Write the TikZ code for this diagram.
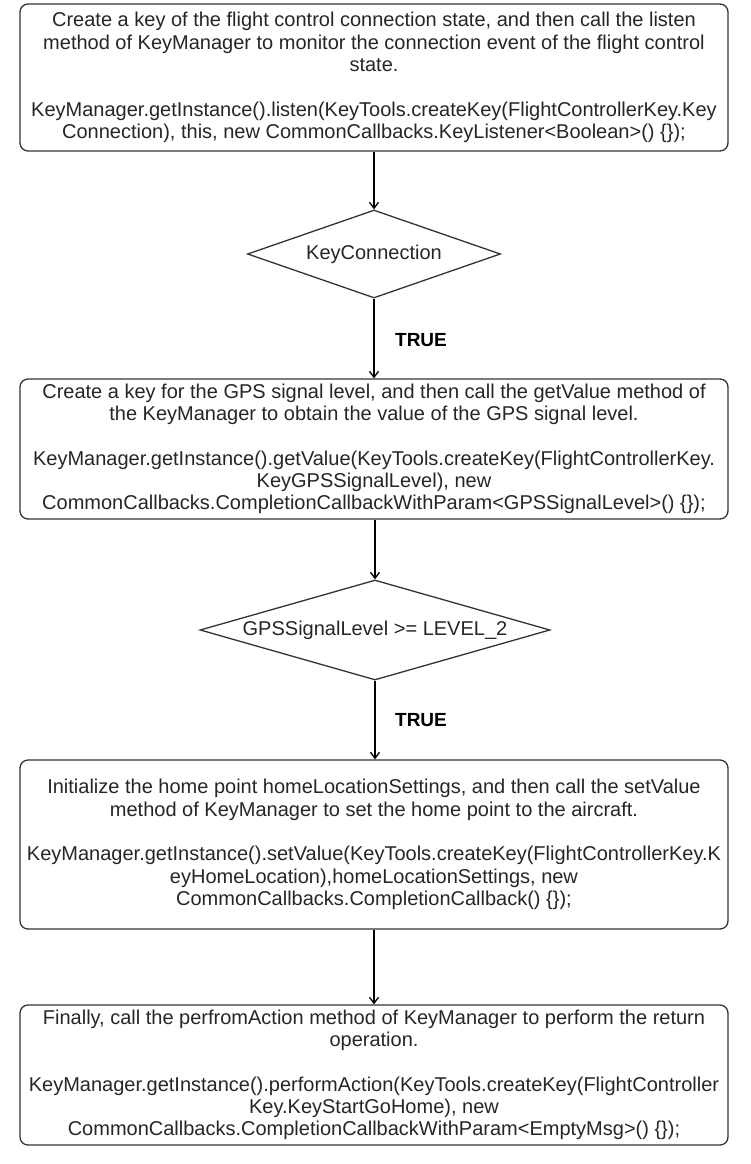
\documentclass[tikz,border=0pt]{standalone}
\usepackage{fontspec}
\setmainfont{Liberation Sans}
\usetikzlibrary{shapes.geometric,arrows.meta}
\begin{document}
\begin{tikzpicture}[x=1pt,y=-1pt,
  every node/.style={font=\fontsize{20}{22.4}\selectfont},
  procbox/.style={draw=black!80,line width=1.3pt,rounded corners=8pt,minimum width=708pt,inner sep=0pt,align=center,text=black!85},
  decbox/.style={draw=black!80,line width=1.3pt,shape=diamond,inner sep=0pt,text=black!85},
  flow/.style={draw=black,line width=1.3pt,-{Straight Barb[length=6pt,width=9pt,line width=1.3pt]}},
  truelabel/.style={font=\bfseries\fontsize{19}{20}\selectfont}]
\useasboundingbox (0,0) rectangle (750,1164);
\fill[white] (0,0) rectangle (750,1164);

\node[procbox,minimum height=147pt] (b1) at (374,77.5) {Create a key of the flight control connection state, and then call the listen\\
method of KeyManager to monitor the connection event of the flight control\\
state.\\[22pt]
KeyManager.getInstance().listen(KeyTools.createKey(FlightControllerKey.Key\\
Connection), this, new CommonCallbacks.KeyListener<Boolean>() \{\});};

\node[decbox,aspect=2.875,minimum width=253pt,minimum height=88pt] (d1) at (374,254) {KeyConnection};

\node[procbox,minimum height=140pt] (b2) at (374,449) {Create a key for the GPS signal level, and then call the getValue method of\\
the KeyManager to obtain the value of the GPS signal level.\\[22pt]
KeyManager.getInstance().getValue(KeyTools.createKey(FlightControllerKey.\\
KeyGPSSignalLevel), new\\
CommonCallbacks.CompletionCallbackWithParam<GPSSignalLevel>() \{\});};

\node[decbox,aspect=3.5,minimum width=350pt,minimum height=100pt] (d2) at (375,630) {GPSSignalLevel >= LEVEL\_2};

\node[procbox,minimum height=169pt] (b3) at (374,844.5) {Initialize the home point homeLocationSettings, and then call the setValue\\
method of KeyManager to set the home point to the aircraft.\\[22pt]
KeyManager.getInstance().setValue(KeyTools.createKey(FlightControllerKey.K\\
eyHomeLocation),homeLocationSettings, new\\
CommonCallbacks.CompletionCallback() \{\});};

\node[procbox,minimum height=140pt] (b4) at (374,1075) {Finally, call the perfromAction method of KeyManager to perform the return\\
operation.\\[22pt]
KeyManager.getInstance().performAction(KeyTools.createKey(FlightController\\
Key.KeyStartGoHome), new\\
CommonCallbacks.CompletionCallbackWithParam<EmptyMsg>() \{\});};

\node[truelabel] (t1) at (421,340) {TRUE};
\node[truelabel] (t2) at (421,720) {TRUE};

\draw[flow] (b1.south -| d1.north) -- (d1.north);
\draw[flow] (d1.south) -- (d1.south |- b2.north);
\draw[flow] (b2.south -| d2.north) -- (d2.north);
\draw[flow] (d2.south) -- (d2.south |- b3.north);
\draw[flow] (b3.south -| b4.north) -- (b4.north);
\end{tikzpicture}
\end{document}
